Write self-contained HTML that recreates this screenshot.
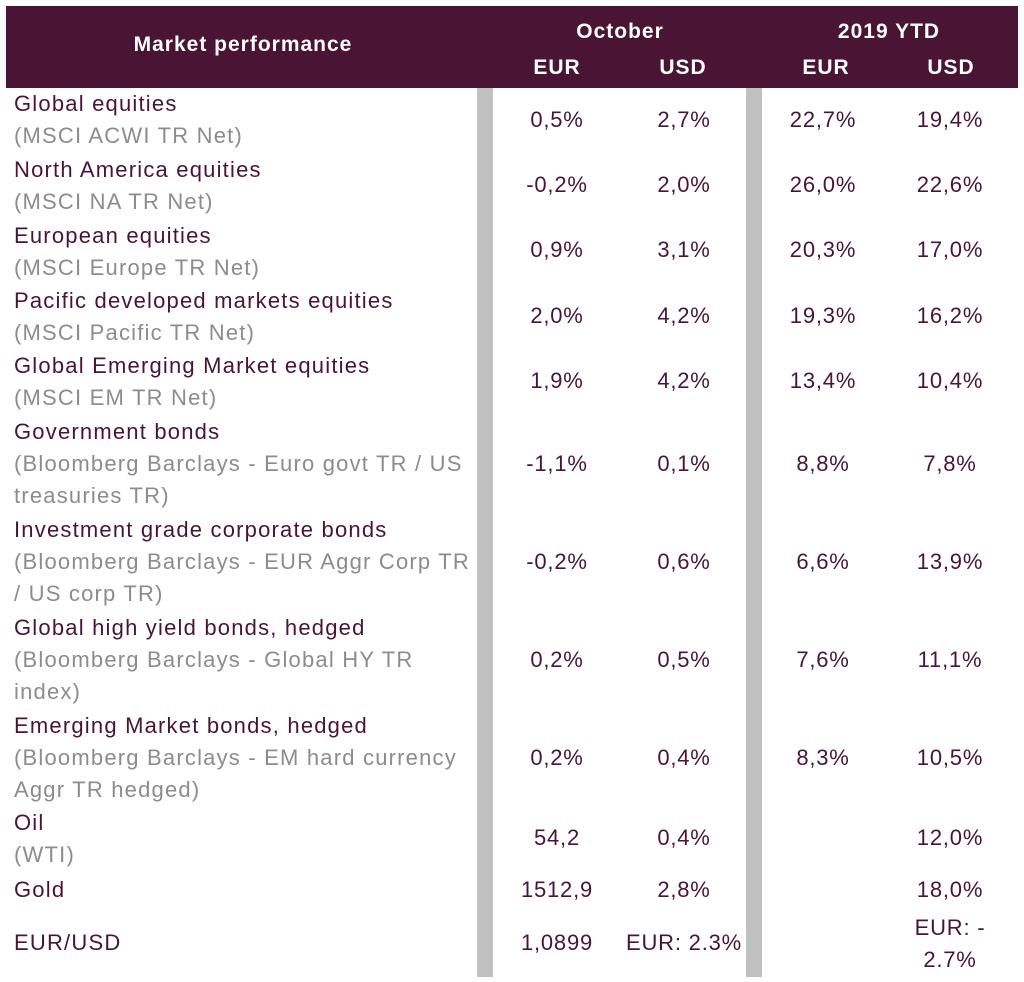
<!DOCTYPE html>
<html><head><meta charset="utf-8"><style>
body{margin:0;width:1024px;height:982px;background:#fff;position:relative;overflow:hidden;font-family:"Liberation Sans",sans-serif;}
.hd{position:absolute;left:6px;top:6px;width:1012px;height:82px;background:#4a1535;}
.bar{position:absolute;top:88px;width:16px;height:889px;background:#c0c0c0;}
.t{position:absolute;font-size:22px;line-height:26px;white-space:nowrap;transform:translateY(-50%);letter-spacing:1.2px;}
.l{left:14px;color:#4a1535;}
.g{left:14px;color:#8c8c8c;}
.c{color:#4a1535;transform:translate(-50%,-50%);letter-spacing:0.8px;}
.w{color:#fff;font-weight:bold;transform:translate(-50%,-50%);font-size:21px;letter-spacing:1px;}
</style></head><body>
<div class="hd"></div>
<div class="bar" style="left:477px"></div>
<div class="bar" style="left:746px"></div>
<div class="t w" style="left:243px;top:45px">Market performance</div>
<div class="t w" style="left:620px;top:32px">October</div>
<div class="t w" style="left:889px;top:32px">2019 YTD</div>
<div class="t w" style="left:557px;top:68px">EUR</div>
<div class="t w" style="left:683px;top:68px">USD</div>
<div class="t w" style="left:826px;top:68px">EUR</div>
<div class="t w" style="left:951px;top:68px">USD</div>

<div class="t l" style="top:104px">Global equities</div>
<div class="t g" style="top:136px">(MSCI ACWI TR Net)</div>
<div class="t l" style="top:170px">North America equities</div>
<div class="t g" style="top:202px">(MSCI NA TR Net)</div>
<div class="t l" style="top:236px">European equities</div>
<div class="t g" style="top:268px">(MSCI Europe TR Net)</div>
<div class="t l" style="top:301px">Pacific developed markets equities</div>
<div class="t g" style="top:333px">(MSCI Pacific TR Net)</div>
<div class="t l" style="top:366px">Global Emerging Market equities</div>
<div class="t g" style="top:398px">(MSCI EM TR Net)</div>
<div class="t l" style="top:432px">Government bonds</div>
<div class="t g" style="top:464px">(Bloomberg Barclays - Euro govt TR / US</div>
<div class="t g" style="top:496px">treasuries TR)</div>
<div class="t l" style="top:530px">Investment grade corporate bonds</div>
<div class="t g" style="top:562px">(Bloomberg Barclays - EUR Aggr Corp TR</div>
<div class="t g" style="top:594px">/ US corp TR)</div>
<div class="t l" style="top:628px">Global high yield bonds, hedged</div>
<div class="t g" style="top:660px">(Bloomberg Barclays - Global HY TR</div>
<div class="t g" style="top:692px">index)</div>
<div class="t l" style="top:726px">Emerging Market bonds, hedged</div>
<div class="t g" style="top:758px">(Bloomberg Barclays - EM hard currency</div>
<div class="t g" style="top:790px">Aggr TR hedged)</div>
<div class="t l" style="top:823px">Oil</div>
<div class="t g" style="top:855px">(WTI)</div>
<div class="t l" style="top:890px">Gold</div>
<div class="t l" style="top:943px">EUR/USD</div>

<div class="t c" style="left:557px;top:120px">0,5%</div><div class="t c" style="left:684px;top:120px">2,7%</div><div class="t c" style="left:823px;top:120px">22,7%</div><div class="t c" style="left:950px;top:120px">19,4%</div>
<div class="t c" style="left:557px;top:185px">-0,2%</div><div class="t c" style="left:684px;top:185px">2,0%</div><div class="t c" style="left:823px;top:185px">26,0%</div><div class="t c" style="left:950px;top:185px">22,6%</div>
<div class="t c" style="left:557px;top:250px">0,9%</div><div class="t c" style="left:684px;top:250px">3,1%</div><div class="t c" style="left:823px;top:250px">20,3%</div><div class="t c" style="left:950px;top:250px">17,0%</div>
<div class="t c" style="left:557px;top:316px">2,0%</div><div class="t c" style="left:684px;top:316px">4,2%</div><div class="t c" style="left:823px;top:316px">19,3%</div><div class="t c" style="left:950px;top:316px">16,2%</div>
<div class="t c" style="left:557px;top:381px">1,9%</div><div class="t c" style="left:684px;top:381px">4,2%</div><div class="t c" style="left:823px;top:381px">13,4%</div><div class="t c" style="left:950px;top:381px">10,4%</div>
<div class="t c" style="left:557px;top:464px">-1,1%</div><div class="t c" style="left:684px;top:464px">0,1%</div><div class="t c" style="left:823px;top:464px">8,8%</div><div class="t c" style="left:950px;top:464px">7,8%</div>
<div class="t c" style="left:557px;top:562px">-0,2%</div><div class="t c" style="left:684px;top:562px">0,6%</div><div class="t c" style="left:823px;top:562px">6,6%</div><div class="t c" style="left:950px;top:562px">13,9%</div>
<div class="t c" style="left:557px;top:660px">0,2%</div><div class="t c" style="left:684px;top:660px">0,5%</div><div class="t c" style="left:823px;top:660px">7,6%</div><div class="t c" style="left:950px;top:660px">11,1%</div>
<div class="t c" style="left:557px;top:758px">0,2%</div><div class="t c" style="left:684px;top:758px">0,4%</div><div class="t c" style="left:823px;top:758px">8,3%</div><div class="t c" style="left:950px;top:758px">10,5%</div>
<div class="t c" style="left:557px;top:838px">54,2</div><div class="t c" style="left:684px;top:838px">0,4%</div><div class="t c" style="left:950px;top:838px">12,0%</div>
<div class="t c" style="left:557px;top:890px">1512,9</div><div class="t c" style="left:684px;top:890px">2,8%</div><div class="t c" style="left:950px;top:890px">18,0%</div>
<div class="t c" style="left:557px;top:943px">1,0899</div><div class="t c" style="left:684px;top:943px">EUR: 2.3%</div><div class="t c" style="left:950px;top:928px">EUR: -</div><div class="t c" style="left:950px;top:960px">2.7%</div>
</body></html>
